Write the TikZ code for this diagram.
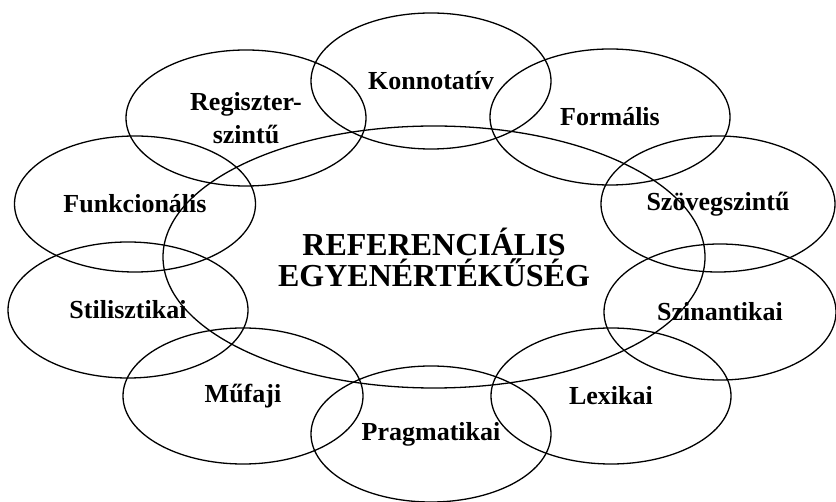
\documentclass[tikz,border=0pt]{standalone}
\usepackage{fontspec}
\setmainfont{Liberation Serif}
\usetikzlibrary{shapes.geometric}
\begin{document}
\begin{tikzpicture}[x=1pt,y=-1pt,
  ring/.style={draw, ellipse, line width=1.3pt, inner sep=0pt,
    minimum width=240pt, minimum height=136pt,
    font=\fontsize{26}{28}\selectfont\bfseries, align=center},
  hub/.style={draw, ellipse, line width=1.3pt, inner sep=0pt,
    minimum width=542pt, minimum height=262pt,
    font=\fontsize{32}{31}\selectfont\bfseries, align=center}]
\useasboundingbox (0,0) rectangle (836,502);
% central concept
\node[hub] (ref) at (434,257) {REFERENCIÁLIS\\EGYENÉRTÉKŰSÉG};
% surrounding aspects
\node[ring] (konn) at (431,81)  {Konnotatív};
\node[ring] (form) at (610,117) {Formális};
\node[ring, minimum width=234pt] (szov) at (718,204) {Szövegszintű};
\node[ring, minimum width=232pt] (szin) at (720,312) {Szinantikai};
\node[ring] (lex)  at (611,396) {Lexikai};
\node[ring] (prag) at (431,434) {Pragmatikai};
\node[ring] (muf)  at (243,396) {Műfaji};
\node[ring] (stil) at (128,310) {Stilisztikai};
\node[ring, minimum width=241pt] (funk) at (135,204) {Funkcionális};
\node[ring, font=\fontsize{26}{33}\selectfont\bfseries] (reg) at (246,118) {Regiszter-\\szintű};
\end{tikzpicture}
\end{document}
